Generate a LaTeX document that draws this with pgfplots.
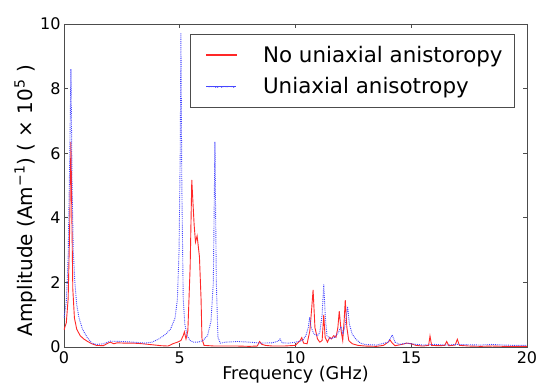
\documentclass[border=0pt]{standalone}
\usepackage{pgfplots}
\pgfplotsset{compat=1.18}
\usepackage{fontspec}
\setmainfont{DejaVu Sans}
\definecolor{lred}{RGB}{255,40,40}
\definecolor{lblue}{RGB}{70,70,255}
\begin{document}
\begin{tikzpicture}
\useasboundingbox (-64pt,-38pt) rectangle (474pt,347pt);
\begin{axis}[
  at={(0pt,0pt)}, anchor=south west,
  scale only axis, width=463pt, height=323pt,
  xmin=0, xmax=20, ymin=0, ymax=10,
  xtick={0,5,10,15,20}, ytick={0,2,4,6,8,10},
  tick align=inside, tick pos=both,
  major tick length=4pt,
  axis line style={black!70, line width=0.8pt},
  every tick/.style={black!70, line width=0.6pt},
  /pgf/number format/assume math mode=true,
  tick label style={font=\fontsize{16}{16}\selectfont},
  xticklabel style={yshift=-1pt},
  xlabel style={font=\fontsize{17.6}{18}\selectfont, yshift=4pt},
  ylabel style={font=\fontsize{20}{21}\selectfont, at={(ticklabel cs:0.453)}, yshift=-3pt},
  xlabel={Frequency (GHz)},
  ylabel={Amplitude (Am\textsuperscript{−1}) ( × 10\textsuperscript{5} )},
  legend style={at={(0.974,0.969)}, anchor=north east, draw=black!70, line width=0.8pt,
    font=\fontsize{21.4}{22}\selectfont, row sep=10pt, column sep=24pt,
    inner xsep=10pt, inner ysep=10pt,
    cells={anchor=west, inner sep=0pt, text height=16pt, text depth=5pt}},
  legend cell align=left,
]
\addplot[draw=lred, line width=0.9pt,
  legend image code/.code={\path (0pt,0pt); \fill[fill=red!75] (6pt,-0.45pt) rectangle (36pt,0.45pt);}] coordinates {
(0.00,0.53)(0.10,0.75)(0.18,1.5)(0.24,3.5)(0.30,6.35)(0.34,4.0)(0.38,1.8)(0.45,0.9)
(0.55,0.55)(0.70,0.35)(0.85,0.25)(1.00,0.18)(1.20,0.10)(1.40,0.05)(1.70,0.04)(1.90,0.12)
(2.00,0.15)(2.15,0.10)(2.30,0.13)(2.60,0.12)(3.00,0.12)(3.40,0.10)(3.80,0.07)(4.20,0.04)
(4.50,0.03)(4.70,0.10)(4.90,0.15)(5.05,0.20)(5.15,0.35)(5.20,0.47)(5.27,0.25)(5.35,0.5)
(5.45,2.5)(5.52,5.17)(5.62,3.8)(5.68,3.25)(5.75,3.44)(5.85,2.8)(5.92,1.5)(5.96,0.25)
(6.05,0.05)(6.5,0.03)(7.0,0.03)(7.5,0.03)(8.0,0.02)(8.35,0.03)(8.45,0.17)(8.55,0.08)
(8.7,0.05)(9.0,0.03)(9.5,0.03)(10.0,0.05)(10.2,0.2)(10.27,0.29)(10.35,0.12)(10.5,0.1)
(10.62,0.5)(10.70,1.2)(10.76,1.77)(10.84,0.6)(10.95,0.25)(11.05,0.15)(11.15,0.2)(11.22,0.99)
(11.28,0.3)(11.38,0.15)(11.48,0.3)(11.55,0.25)(11.65,0.35)(11.75,0.3)(11.83,0.6)(11.89,1.11)
(11.97,0.5)(12.04,0.2)(12.1,0.8)(12.15,1.45)(12.22,0.6)(12.3,0.2)(12.45,0.1)(12.7,0.05)
(13.0,0.03)(13.5,0.02)(13.8,0.05)(14.0,0.15)(14.08,0.22)(14.18,0.12)(14.3,0.04)(14.6,0.08)
(14.8,0.12)(15.0,0.1)(15.2,0.05)(15.5,0.03)(15.75,0.05)(15.81,0.34)(15.88,0.05)(16.2,0.04)
(16.45,0.05)(16.53,0.17)(16.62,0.04)(16.9,0.06)(16.99,0.24)(17.08,0.05)(17.5,0.03)(18.0,0.02)
(18.5,0.03)(19.0,0.02)(19.5,0.02)(20.0,0.02)
};
\addlegendentry{No uniaxial anistoropy}
\addplot[draw=lblue, densely dotted, line width=0.9pt,
  legend image code/.code={\path (0pt,0pt); \foreach \k in {0,...,14} {\fill[fill=blue!70] (6pt+2*\k pt,-0.45pt) rectangle (7pt+2*\k pt,0.45pt);}}] coordinates {
(0.00,0.9)(0.10,1.4)(0.18,2.8)(0.24,5.5)(0.30,8.6)(0.35,5.0)(0.40,3.0)(0.47,2.0)
(0.55,1.3)(0.65,0.9)(0.80,0.55)(1.00,0.3)(1.20,0.12)(1.40,0.08)(1.70,0.10)(2.00,0.18)
(2.50,0.17)(3.00,0.15)(3.50,0.12)(3.80,0.15)(4.10,0.25)(4.40,0.4)(4.60,0.55)(4.80,0.9)
(4.90,1.5)(4.97,3.0)(5.02,6.0)(5.05,9.72)(5.09,5.0)(5.15,1.5)(5.22,0.7)(5.32,0.35)
(5.45,0.2)(5.6,0.15)(5.8,0.15)(6.0,0.2)(6.2,0.35)(6.35,0.8)(6.45,2.0)(6.52,6.35)
(6.58,2.0)(6.65,0.3)(6.75,0.12)(7.0,0.15)(7.5,0.17)(8.0,0.15)(8.5,0.12)(9.0,0.13)
(9.25,0.18)(9.33,0.25)(9.42,0.13)(9.7,0.12)(10.0,0.15)(10.3,0.2)(10.45,0.35)(10.55,0.6)
(10.61,0.92)(10.68,0.6)(10.8,0.4)(10.95,0.35)(11.05,0.45)(11.15,1.0)(11.22,1.94)(11.29,0.9)
(11.36,0.35)(11.5,0.25)(11.7,0.3)(11.85,0.45)(11.97,0.63)(12.05,0.4)(12.15,0.7)(12.25,1.25)
(12.33,0.7)(12.45,0.4)(12.6,0.25)(12.8,0.12)(13.0,0.08)(13.5,0.06)(14.0,0.15)(14.18,0.37)
(14.3,0.15)(14.5,0.08)(14.8,0.12)(15.0,0.1)(15.5,0.06)(16.0,0.08)(16.5,0.06)(17.0,0.08)
(17.5,0.07)(18.0,0.06)(18.5,0.08)(19.0,0.06)(19.5,0.05)(20.0,0.05)
};
\addlegendentry{Uniaxial anisotropy}
\end{axis}
\end{tikzpicture}
\end{document}
